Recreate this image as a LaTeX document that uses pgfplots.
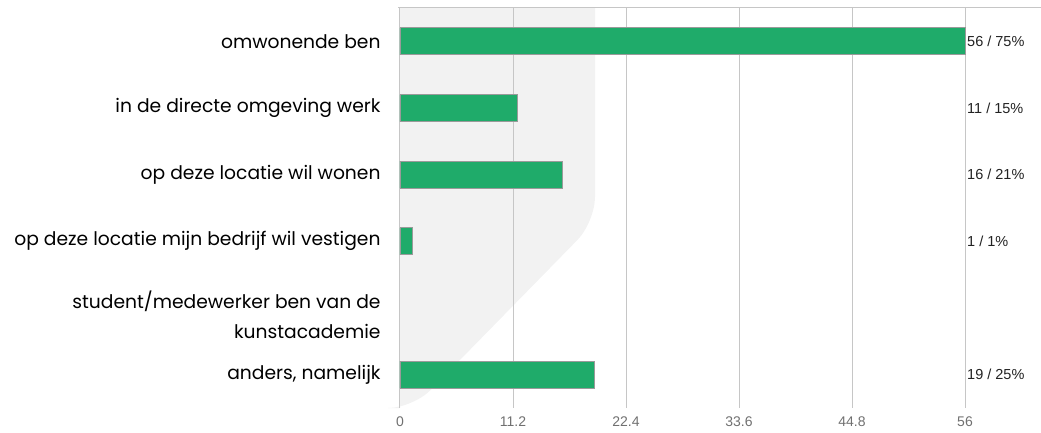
\documentclass[border=0pt]{standalone}
\usepackage{pgfplots}
\pgfplotsset{compat=1.18}
\usepackage{fontspec}
\setmainfont{Liberation Sans}
\newfontfamily\catfont{Poppins}
\newfontfamily\numfont{Liberation Sans}
\definecolor{bargreen}{HTML}{1FAB6A}
\definecolor{barborder}{HTML}{9A9A9A}
\definecolor{gridgray}{HTML}{C6C6C6}
\definecolor{shapegray}{HTML}{F2F2F2}
\definecolor{ticktext}{HTML}{707070}
\definecolor{valtext}{HTML}{222222}
\begin{document}
\begin{tikzpicture}
\useasboundingbox (0pt,0pt) rectangle (1041pt,432pt);
% background decoration
\fill[shapegray] (400pt,424pt) -- (595pt,424pt) -- (595pt,300pt) [rounded corners=25pt] -- (595pt,210pt) -- (413pt,24pt) [sharp corners] -- (400pt,24pt) -- cycle;
\draw[gridgray, line width=1pt] (398pt,424pt) -- (1041pt,424pt);
\begin{axis}[
  at={(400pt,24pt)}, anchor=south west,
  scale only axis, width=565pt, height=400pt,
  xmin=0, xmax=56, ymin=-0.5, ymax=5.5, y dir=reverse,
  xbar, bar width=27pt, bar shift=0pt,
  axis line style={draw=none}, tick style={draw=none},
  xmajorgrids, grid style={gridgray, line width=1pt},
  xtick={0,11.2,22.4,33.6,44.8,56},
  /pgf/number format/assume math mode=true,
  xticklabel style={font=\numfont\fontsize{14}{16}\selectfont, text=ticktext, inner sep=0pt, yshift=-9pt},
  ytick={0,1,2,3,4,5},
  yticklabels={omwonende ben, in de directe omgeving werk, op deze locatie wil wonen, op deze locatie mijn bedrijf wil vestigen, {\raisebox{-14.5pt}[0pt][0pt]{\begin{tabular}{@{}r@{}}student/medewerker ben van de\\[7pt]kunstacademie\end{tabular}}}, {anders, namelijk}},
  yticklabel style={font=\catfont\fontsize{18.7}{22.4}\selectfont, text=black, anchor=east, inner sep=0pt, xshift=-15pt},
  clip=false,
]
\addplot[fill=bargreen, draw=barborder, line width=0.8pt] coordinates {(56,0) (11.6,1) (16.1,2) (1.2,3) (19.3,5)};
\begin{scope}[every node/.style={anchor=west, font=\numfont\fontsize{14.5}{17}\selectfont, text=valtext, inner sep=0pt, xshift=2pt}]
\node at (axis cs:56,0) {56 / 75\%};
\node at (axis cs:56,1) {11 / 15\%};
\node at (axis cs:56,2) {16 / 21\%};
\node at (axis cs:56,3) {1 / 1\%};
\node at (axis cs:56,5) {19 / 25\%};
\end{scope}
\end{axis}
\end{tikzpicture}
\end{document}
